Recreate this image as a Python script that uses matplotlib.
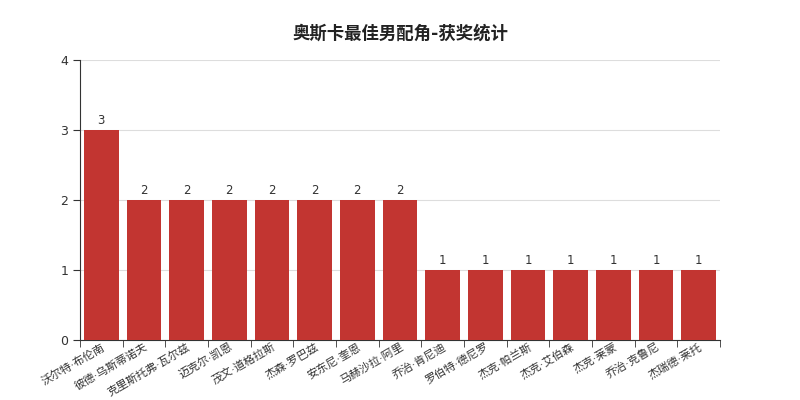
import numpy as np
import matplotlib
matplotlib.use("Agg")
import matplotlib.pyplot as plt

# DejaVu first so the middle dot stays narrow; CJK glyphs fall back to Noto
plt.rcParams['font.family'] = ['DejaVu Sans', 'Noto Sans CJK SC']

# Data
actors = ["沃尔特·布伦南", "彼德·乌斯蒂诺夫", "克里斯托弗·瓦尔兹", "迈克尔·凯恩",
          "茂文·道格拉斯", "杰森·罗巴兹", "安东尼·奎恩", "马赫沙拉·阿里",
          "乔治·肯尼迪", "罗伯特·德尼罗", "杰克·帕兰斯", "杰克·艾伯森",
          "杰克·莱蒙", "乔治·克鲁尼", "杰瑞德·莱托"]
wins = [3, 2, 2, 2, 2, 2, 2, 2, 1, 1, 1, 1, 1, 1, 1]

fig = plt.figure(figsize=(8, 4), dpi=100)
ax = fig.add_axes([0.1, 0.15, 0.8, 0.7])

x = np.arange(len(actors))
bars = ax.bar(x, wins, width=0.82, color="#c23531", zorder=3)
for b, v in zip(bars, wins):
    ax.text(b.get_x() + b.get_width() / 2, v + 0.05, str(v),
            ha="center", va="bottom", fontsize=8.5, color="#333333")

ax.set_xlim(-0.5, len(actors) - 0.5)
ax.set_ylim(0, 4)
ax.set_yticks([0, 1, 2, 3, 4])
ax.yaxis.grid(True, color="#dddddd", linewidth=0.8, zorder=0)

ax.set_xticks(x)
ax.set_xticklabels(actors, rotation=30, ha="right", rotation_mode="anchor",
                   fontsize=8.1, color="#333333")
ax.tick_params(axis="x", length=0, pad=1)
ax.set_xticks(np.arange(len(actors) + 1) - 0.5, minor=True)
ax.tick_params(axis="x", which="minor", length=5, color="#333333")
ax.tick_params(axis="y", length=5, color="#333333", labelsize=9, labelcolor="#333333")

for side in ["top", "right"]:
    ax.spines[side].set_visible(False)
for side in ["left", "bottom"]:
    ax.spines[side].set_color("#333333")

fig.text(0.5, 0.915, "奥斯卡最佳男配角-获奖统计", ha="center", va="center",
         fontsize=12.5, fontweight="bold", color="#222222")

fig.savefig("out.png", dpi=100)
